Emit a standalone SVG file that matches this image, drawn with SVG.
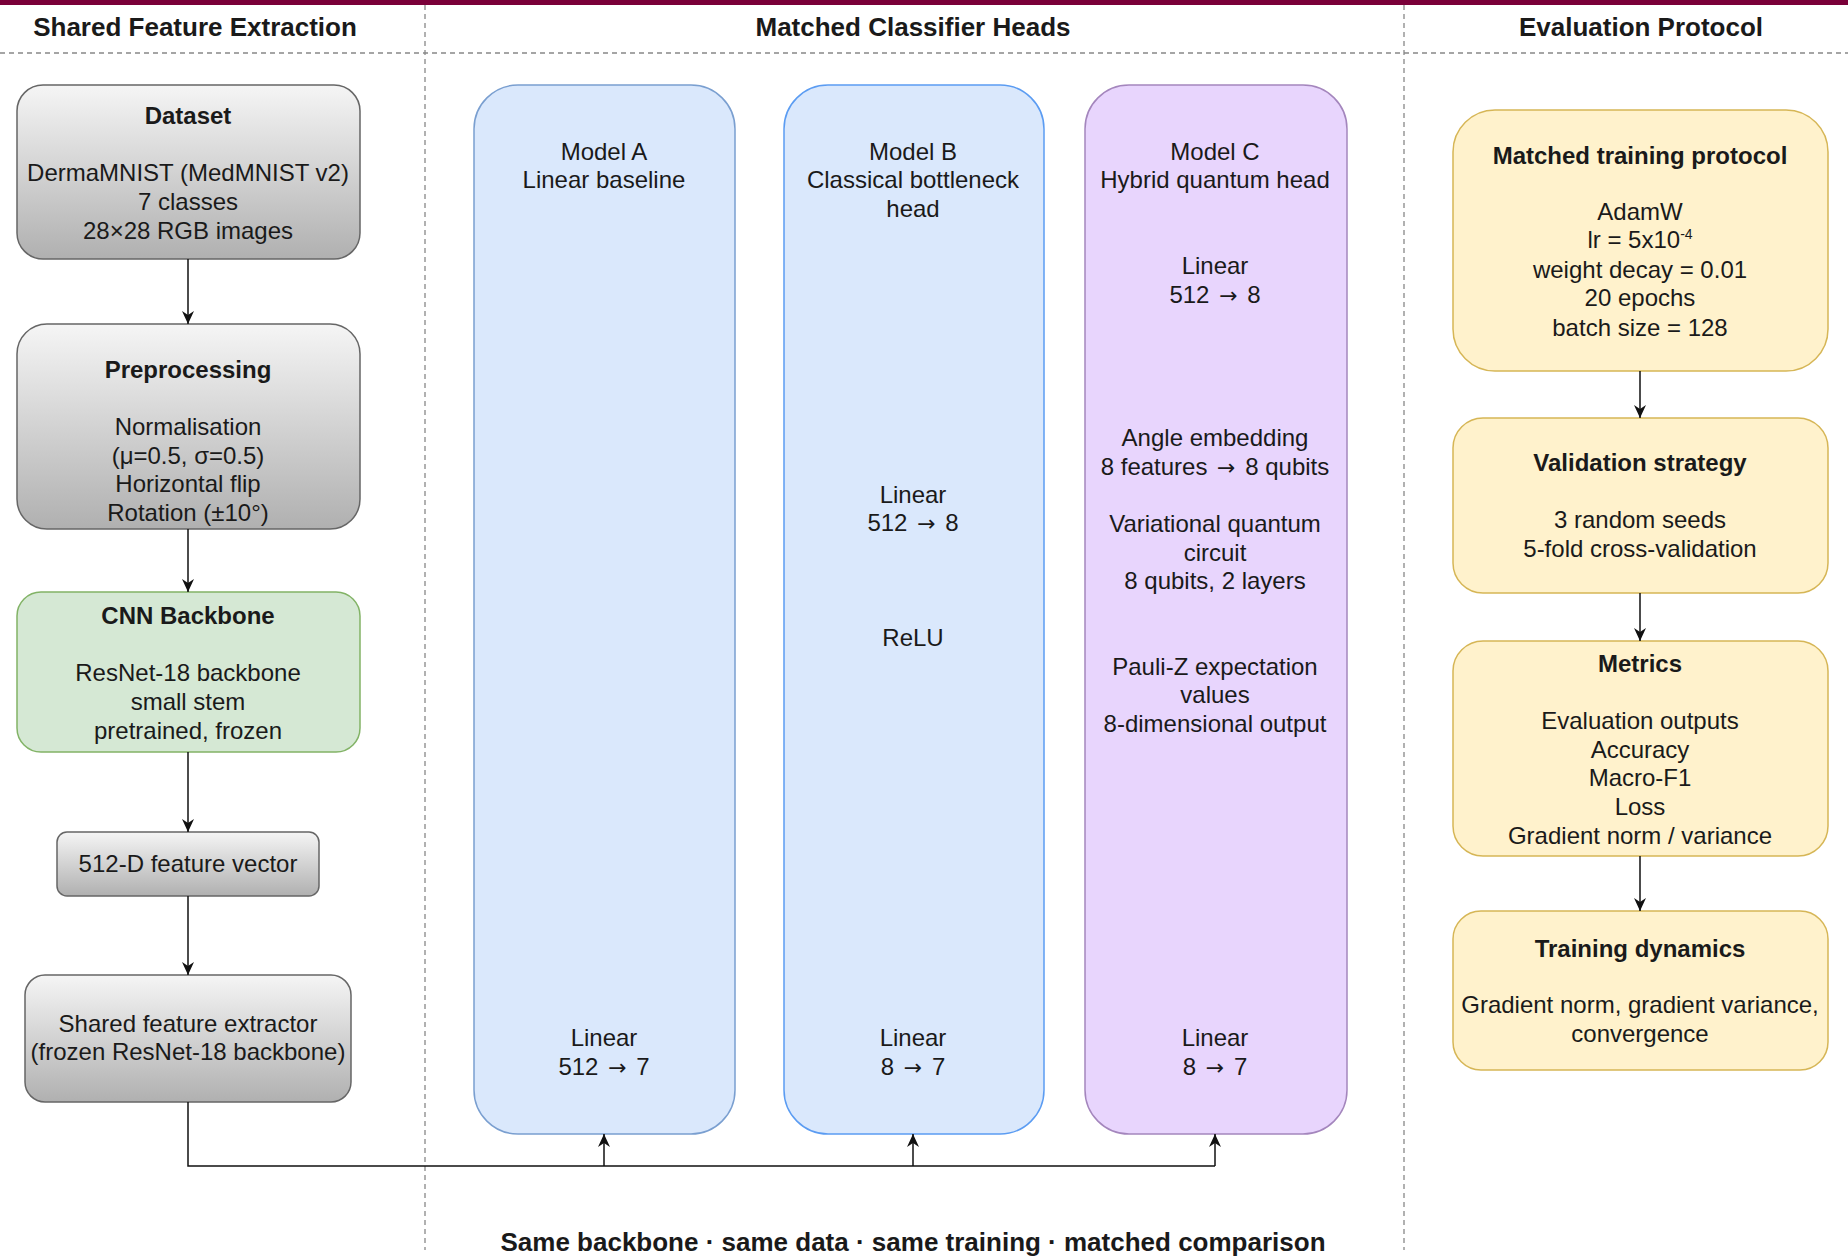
<svg xmlns="http://www.w3.org/2000/svg" width="1848" height="1256" viewBox="0 0 1848 1256">
<style>
text{font-family:"Liberation Sans",Arial,Helvetica,sans-serif;fill:#1a1a1a;text-anchor:middle}
.t{font-size:24px}
.b{font-size:24px;font-weight:bold}
.h{font-size:26px;font-weight:bold}
.ar{font-family:"DejaVu Sans",sans-serif;font-size:22px}
.gray{fill:url(#g);stroke:#666666;stroke-width:1.5}
.green{fill:#d5e8d4;stroke:#82b366;stroke-width:1.5}
.blueA{fill:#dae8fc;stroke:#7a9fd0;stroke-width:1.5}
.blueB{fill:#dae8fc;stroke:#5b9cf2;stroke-width:1.5}
.purp{fill:#e8d5fd;stroke:#a486bd;stroke-width:1.5}
.yel{fill:#fff2cc;stroke:#d6b656;stroke-width:1.5}
.div{stroke:#888;stroke-width:1.3;stroke-dasharray:5 4;fill:none}
.edge{stroke:#111;stroke-width:1.5;fill:none;marker-end:url(#arr)}
.line{stroke:#111;stroke-width:1.5;fill:none}
</style>
<defs>
<linearGradient id="g" x1="0" y1="0" x2="0" y2="1">
<stop offset="0" stop-color="#f5f5f5"/>
<stop offset="1" stop-color="#b0b0b0"/>
</linearGradient>
<marker id="arr" markerUnits="userSpaceOnUse" markerWidth="14" markerHeight="12" viewBox="0 0 14 12" refX="13" refY="6" orient="auto">
<path d="M0,0 L13,6 L0,12 L4,6 Z" fill="#111"/>
</marker>
</defs>
<rect x="0" y="0" width="1848" height="1256" fill="#ffffff"/>
<rect x="0" y="0" width="1848" height="5" fill="#7a0039"/>

<g id="lanes">
<line class="div" x1="0" y1="53" x2="1848" y2="53"/>
<line class="div" x1="425" y1="5" x2="425" y2="1250"/>
<line class="div" x1="1404" y1="5" x2="1404" y2="1250"/>
<text class="h" x="195" y="36">Shared Feature Extraction</text>
<text class="h" x="913" y="36">Matched Classifier Heads</text>
<text class="h" x="1641" y="36">Evaluation Protocol</text>
</g>

<g id="dataset">
<rect class="gray" x="17" y="85" width="343" height="174" rx="26"/>
<text class="b" x="188" y="124">Dataset</text>
<text class="t" x="188" y="181">DermaMNIST (MedMNIST v2)</text>
<text class="t" x="188" y="210">7 classes</text>
<text class="t" x="188" y="239">28×28 RGB images</text>
</g>

<g id="preprocessing">
<rect class="gray" x="17" y="324" width="343" height="205" rx="30"/>
<text class="b" x="188" y="378">Preprocessing</text>
<text class="t" x="188" y="435">Normalisation</text>
<text class="t" x="188" y="464">(μ=0.5, σ=0.5)</text>
<text class="t" x="188" y="492">Horizontal flip</text>
<text class="t" x="188" y="521">Rotation (±10°)</text>
</g>

<g id="cnn">
<rect class="green" x="17" y="592" width="343" height="160" rx="24"/>
<text class="b" x="188" y="624">CNN Backbone</text>
<text class="t" x="188" y="681">ResNet-18 backbone</text>
<text class="t" x="188" y="710">small stem</text>
<text class="t" x="188" y="739">pretrained, frozen</text>
</g>

<g id="featvec">
<rect class="gray" x="57" y="832" width="262" height="64" rx="10"/>
<text class="t" x="188" y="872">512-D feature vector</text>
</g>

<g id="extractor">
<rect class="gray" x="25" y="975" width="326" height="127" rx="20"/>
<text class="t" x="188" y="1032">Shared feature extractor</text>
<text class="t" x="188" y="1060">(frozen ResNet-18 backbone)</text>
</g>

<g id="modelA">
<rect class="blueA" x="474" y="85" width="261" height="1049" rx="44"/>
<text class="t" x="604" y="160">Model A</text>
<text class="t" x="604" y="188">Linear baseline</text>
<text class="t" x="604" y="1046">Linear</text>
<text class="t" x="604" y="1075">512 <tspan class="ar" dx="3">→</tspan><tspan dx="3"> 7</tspan></text>
</g>

<g id="modelB">
<rect class="blueB" x="784" y="85" width="260" height="1049" rx="44"/>
<text class="t" x="913" y="160">Model B</text>
<text class="t" x="913" y="188">Classical bottleneck</text>
<text class="t" x="913" y="217">head</text>
<text class="t" x="913" y="503">Linear</text>
<text class="t" x="913" y="531">512 <tspan class="ar" dx="3">→</tspan><tspan dx="3"> 8</tspan></text>
<text class="t" x="913" y="646">ReLU</text>
<text class="t" x="913" y="1046">Linear</text>
<text class="t" x="913" y="1075">8 <tspan class="ar" dx="3">→</tspan><tspan dx="3"> 7</tspan></text>
</g>

<g id="modelC">
<rect class="purp" x="1085" y="85" width="262" height="1049" rx="44"/>
<text class="t" x="1215" y="160">Model C</text>
<text class="t" x="1215" y="188">Hybrid quantum head</text>
<text class="t" x="1215" y="274">Linear</text>
<text class="t" x="1215" y="303">512 <tspan class="ar" dx="3">→</tspan><tspan dx="3"> 8</tspan></text>
<text class="t" x="1215" y="446">Angle embedding</text>
<text class="t" x="1215" y="475">8 features <tspan class="ar" dx="3">→</tspan><tspan dx="3"> 8 qubits</tspan></text>
<text class="t" x="1215" y="532">Variational quantum</text>
<text class="t" x="1215" y="561">circuit</text>
<text class="t" x="1215" y="589">8 qubits, 2 layers</text>
<text class="t" x="1215" y="675">Pauli-Z expectation</text>
<text class="t" x="1215" y="703">values</text>
<text class="t" x="1215" y="732">8-dimensional output</text>
<text class="t" x="1215" y="1046">Linear</text>
<text class="t" x="1215" y="1075">8 <tspan class="ar" dx="3">→</tspan><tspan dx="3"> 7</tspan></text>
</g>

<g id="training">
<rect class="yel" x="1453" y="110" width="375" height="261" rx="42"/>
<text class="b" x="1640" y="164">Matched training protocol</text>
<text class="t" x="1640" y="220">AdamW</text>
<text class="t" x="1640" y="248">lr = 5x10<tspan font-size="14" dy="-9">-4</tspan></text>
<text class="t" x="1640" y="278">weight decay = 0.01</text>
<text class="t" x="1640" y="306">20 epochs</text>
<text class="t" x="1640" y="336">batch size = 128</text>
</g>

<g id="validation">
<rect class="yel" x="1453" y="418" width="375" height="175" rx="30"/>
<text class="b" x="1640" y="471">Validation strategy</text>
<text class="t" x="1640" y="528">3 random seeds</text>
<text class="t" x="1640" y="557">5-fold cross-validation</text>
</g>

<g id="metrics">
<rect class="yel" x="1453" y="641" width="375" height="215" rx="30"/>
<text class="b" x="1640" y="672">Metrics</text>
<text class="t" x="1640" y="729">Evaluation outputs</text>
<text class="t" x="1640" y="758">Accuracy</text>
<text class="t" x="1640" y="786">Macro-F1</text>
<text class="t" x="1640" y="815">Loss</text>
<text class="t" x="1640" y="844">Gradient norm / variance</text>
</g>

<g id="dynamics">
<rect class="yel" x="1453" y="911" width="375" height="159" rx="28"/>
<text class="b" x="1640" y="957">Training dynamics</text>
<text class="t" x="1640" y="1013">Gradient norm, gradient variance,</text>
<text class="t" x="1640" y="1042">convergence</text>
</g>

<g id="connectors">
<line class="edge" x1="188" y1="259" x2="188" y2="324"/>
<line class="edge" x1="188" y1="529" x2="188" y2="592"/>
<line class="edge" x1="188" y1="752" x2="188" y2="832"/>
<line class="edge" x1="188" y1="896" x2="188" y2="975"/>
<polyline class="line" points="188,1102 188,1166 1215,1166"/>
<line class="edge" x1="604" y1="1166" x2="604" y2="1134"/>
<line class="edge" x1="913" y1="1166" x2="913" y2="1134"/>
<line class="edge" x1="1215" y1="1166" x2="1215" y2="1134"/>
<line class="edge" x1="1640" y1="371" x2="1640" y2="418"/>
<line class="edge" x1="1640" y1="593" x2="1640" y2="641"/>
<line class="edge" x1="1640" y1="856" x2="1640" y2="911"/>
</g>

<text class="h" x="913" y="1251">Same backbone · same data · same training · matched comparison</text>
</svg>
